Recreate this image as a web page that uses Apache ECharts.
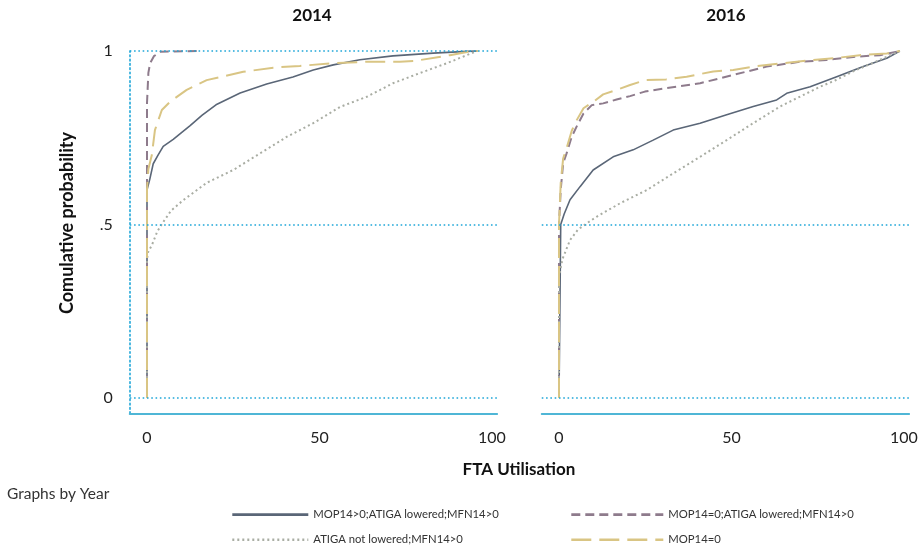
<!DOCTYPE html>
<html>
<head>
<meta charset="utf-8">
<script src="https://cdn.jsdelivr.net/npm/echarts@6/dist/echarts.min.js"></script>
<style>html,body{margin:0;padding:0;background:#fff}#c{width:921px;height:558px}</style>
</head>
<body>
<div id="c"></div>
<script>
// ---- data ----
const panelTitles = ['2014', '2016'];
const seriesNames = ['MOP14>0;ATIGA lowered;MFN14>0', 'MOP14=0;ATIGA lowered;MFN14>0', 'ATIGA not lowered;MFN14>0', 'MOP14=0'];
const xTicks = [0, 50, 100];
const yTicks = [0, 0.5, 1];
const yGridLeft = [0, 0.5, 1];
const yGridRight = [0, 0.5];

// 2014
const a14x = [0, 0, 0.8, 1.8, 3.2, 4.7, 7.6, 10, 12.5, 16, 20, 27, 34.7, 42.3, 48.2, 54, 61.7, 71.3, 83, 92.7, 96];
const a14y = [0, 0.6, 0.63, 0.675, 0.7, 0.725, 0.745, 0.765, 0.785, 0.815, 0.845, 0.879, 0.905, 0.925, 0.945, 0.96, 0.975, 0.986, 0.994, 0.999, 1.0];
const b14x = [0, 0, 0, 0.4, 0.9, 2, 4, 14.5];
const b14y = [0, 0.6, 0.85, 0.937, 0.965, 0.985, 0.998, 1.0];
const c14x = [0, 0, 0.3, 1.4, 3, 4.5, 7, 10.5, 17.3, 25, 32.8, 40.6, 48.2, 56, 63.7, 71.3, 79, 87, 92.7, 95.6];
const c14y = [0, 0.4, 0.42, 0.44, 0.48, 0.504, 0.54, 0.57, 0.62, 0.657, 0.705, 0.753, 0.792, 0.839, 0.868, 0.907, 0.936, 0.965, 0.988, 1.0];
const d14x = [0, 0, 0.4, 1.4, 2.3, 4.3, 6.7, 11.5, 17.3, 27.9, 36.6, 44.3, 54, 63.7, 73.3, 78, 87.8, 94.5, 96];
const d14y = [0, 0.6, 0.66, 0.70, 0.772, 0.83, 0.854, 0.888, 0.916, 0.94, 0.952, 0.957, 0.965, 0.969, 0.969, 0.972, 0.988, 1.0, 1.0];

// 2016
const a16x = [0, 0.5, 1.5, 3.2, 6.1, 9.9, 15.7, 21.5, 27.3, 33.1, 40.9, 48.6, 56.3, 63.1, 66, 72.8, 80.5, 88.2, 95, 98.8];
const a16y = [0, 0.5, 0.53, 0.571, 0.609, 0.657, 0.695, 0.715, 0.743, 0.772, 0.792, 0.816, 0.84, 0.859, 0.878, 0.897, 0.926, 0.955, 0.979, 1.0];
const b16x = [0, 0, 0.5, 1.2, 2.2, 3.7, 5.1, 7.1, 9.5, 12.8, 16.7, 20.6, 24.9, 31.2, 40.9, 50.5, 60.2, 69.9, 77.6, 85.3, 93, 98.8];
const b16y = [0, 0.5, 0.6, 0.676, 0.705, 0.753, 0.782, 0.82, 0.844, 0.849, 0.86, 0.87, 0.883, 0.893, 0.907, 0.931, 0.955, 0.969, 0.974, 0.983, 0.988, 1.0];
const c16x = [0, 0, 1, 3.2, 5.5, 8, 10.9, 17.7, 25.4, 33.1, 40.9, 48.6, 56.3, 64.1, 71.8, 75.7, 80, 85, 92, 98.8];
const c16y = [0, 0.35, 0.4, 0.455, 0.485, 0.503, 0.522, 0.561, 0.599, 0.647, 0.695, 0.743, 0.792, 0.84, 0.878, 0.897, 0.915, 0.94, 0.97, 1.0];
const d16x = [0, 0, 0.5, 1.2, 2.2, 3.7, 5.1, 7.1, 10, 12.8, 16.7, 20.6, 25, 31, 37, 44.7, 50.5, 56.3, 64.1, 71.8, 79.6, 87.2, 95, 98.8];
const d16y = [0, 0.5, 0.62, 0.69, 0.72, 0.77, 0.8, 0.835, 0.854, 0.875, 0.888, 0.902, 0.916, 0.918, 0.926, 0.941, 0.945, 0.955, 0.964, 0.972, 0.979, 0.988, 0.993, 1.0];

const zip = (xs, ys) => xs.map((x, i) => [x, ys[i]]);

// ---- styles ----
const FONT = 'Lato, "Open Sans", sans-serif';
const GRIDCOL = '#1fa6d8';
const AXISCOL = '#4fb6d6';
const styles = [
  { color: '#5a6677', width: 1.6, type: 'solid' },
  { color: '#8e7b8c', width: 2, type: [9, 5] },
  { color: '#a9ada3', width: 2, type: [2, 3] },
  { color: '#d9c584', width: 2, type: [20, 8] }
];

const chart = echarts.init(document.getElementById('c'), null, { renderer: 'canvas' });

function gridLineSeries(gi, vals) {
  return {
    type: 'line', xAxisIndex: gi, yAxisIndex: gi, data: [], silent: true, z: 1,
    markLine: {
      silent: true, symbol: ['none', 'none'], label: { show: false }, animation: false,
      lineStyle: { color: GRIDCOL, width: 1.6, type: [1.6, 2.7] },
      emphasis: { disabled: true },
      data: vals.map(v => ({ yAxis: v }))
    }
  };
}

function dataSeries(gi, idx, data) {
  const s = styles[idx];
  return {
    name: seriesNames[idx], type: 'line', xAxisIndex: gi, yAxisIndex: gi,
    data: data, showSymbol: false, symbol: 'none', z: 3, clip: false, animation: false,
    lineStyle: { color: s.color, width: s.width, type: s.type },
    itemStyle: { color: s.color },
    emphasis: { disabled: true }
  };
}

const xAxisBase = (gi) => ({
  type: 'value', gridIndex: gi, min: -5, max: 101.5,
  axisLine: { show: true, onZero: false, lineStyle: { color: AXISCOL, width: 2 } },
  axisTick: { show: false },
  splitLine: { show: false },
  axisLabel: { customValues: xTicks, fontSize: 16, color: '#222', margin: 16, fontFamily: FONT }
});

const legendBase = {
  orient: 'vertical', top: 504, itemHeight: 14, itemGap: 14, selectedMode: false,
  itemStyle: { opacity: 0, borderWidth: 0 },
  lineStyle: { width: 2.6 },
  textStyle: { fontSize: 11.3, color: '#333', fontFamily: FONT }
};

const option = {
  animation: false,
  backgroundColor: '#fff',
  grid: [
    { left: 129.75, width: 367.4, top: 51, bottom: 144.5 },
    { left: 541.75, width: 367.4, top: 51, bottom: 144.5 }
  ],
  xAxis: [xAxisBase(0), xAxisBase(1)],
  yAxis: [
    {
      type: 'value', gridIndex: 0, min: -0.045, max: 1,
      axisLine: { show: true, onZero: false, lineStyle: { color: GRIDCOL, width: 1.6, type: [1.6, 2.7] } },
      axisTick: { show: false }, splitLine: { show: false },
      axisLabel: {
        customValues: yTicks, fontSize: 16, color: '#222', margin: 17, fontFamily: FONT,
        formatter: v => (v === 0.5 ? '.5' : String(v))
      }
    },
    {
      type: 'value', gridIndex: 1, min: -0.045, max: 1,
      axisLine: { show: false, onZero: false }, axisTick: { show: false }, splitLine: { show: false },
      axisLabel: { show: false }
    }
  ],
  legend: [
    Object.assign({}, legendBase, { data: [seriesNames[0], seriesNames[2]], left: 226, itemWidth: 76 }),
    Object.assign({}, legendBase, { data: [seriesNames[1], seriesNames[3]], left: 565, itemWidth: 92 })
  ],
  graphic: [
    { type: 'text', x: 312, y: 16, style: { text: panelTitles[0], font: 'bold 17px ' + FONT, fill: '#111', align: 'center', verticalAlign: 'middle' } },
    { type: 'text', x: 726, y: 16, style: { text: panelTitles[1], font: 'bold 17px ' + FONT, fill: '#111', align: 'center', verticalAlign: 'middle' } },
    { type: 'text', x: 67, y: 223, rotation: Math.PI / 2, style: { text: 'Comulative probability', font: 'bold 18px ' + FONT, fill: '#111', align: 'center', verticalAlign: 'middle' } },
    { type: 'text', x: 519, y: 470, style: { text: 'FTA Utilisation', font: 'bold 17px ' + FONT, fill: '#111', align: 'center', verticalAlign: 'middle' } },
    { type: 'text', x: 7, y: 494, style: { text: 'Graphs by Year', font: '15.5px ' + FONT, fill: '#333', align: 'left', verticalAlign: 'middle' } }
  ],
  series: [
    gridLineSeries(0, yGridLeft),
    gridLineSeries(1, yGridRight),
    dataSeries(0, 0, zip(a14x, a14y)),
    dataSeries(0, 1, zip(b14x, b14y)),
    dataSeries(0, 2, zip(c14x, c14y)),
    dataSeries(0, 3, zip(d14x, d14y)),
    dataSeries(1, 0, zip(a16x, a16y)),
    dataSeries(1, 1, zip(b16x, b16y)),
    dataSeries(1, 2, zip(c16x, c16y)),
    dataSeries(1, 3, zip(d16x, d16y))
  ]
};
chart.setOption(option);
</script>
</body>
</html>
